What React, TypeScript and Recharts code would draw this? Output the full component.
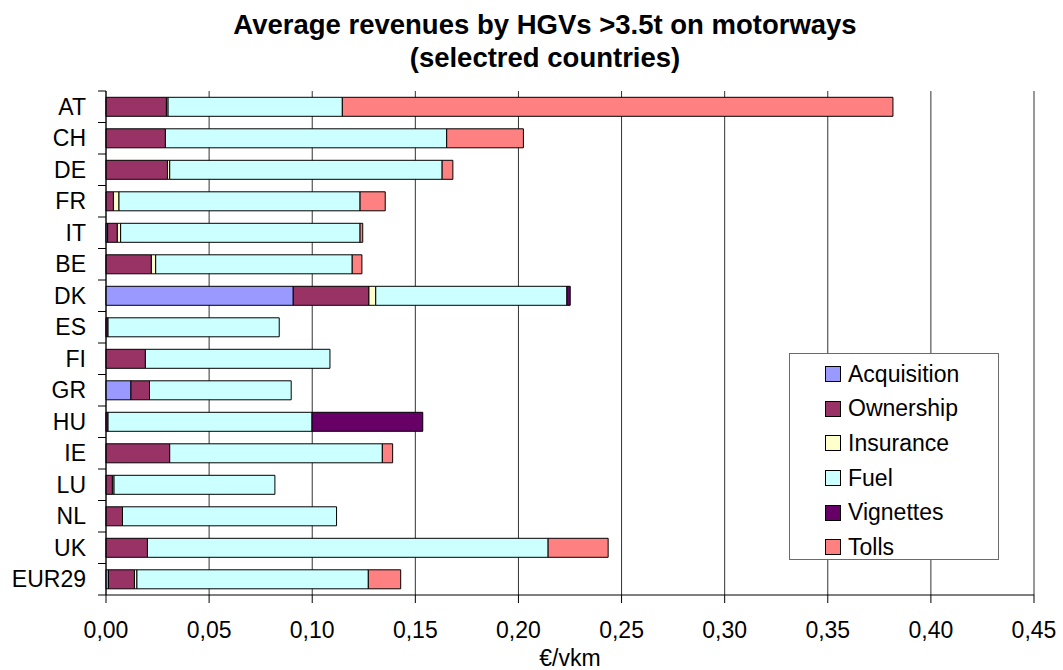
import React from 'react';
import { BarChart, Bar, XAxis, YAxis, CartesianGrid, Legend } from 'recharts';

const countries = ['AT', 'CH', 'DE', 'FR', 'IT', 'BE', 'DK', 'ES', 'FI', 'GR', 'HU', 'IE', 'LU', 'NL', 'UK', 'EUR29'];
const acquisition = [0, 0, 0, 0, 0.0008, 0, 0.0908, 0, 0, 0.0121, 0, 0, 0, 0, 0, 0.0012];
const ownership = [0.0293, 0.0288, 0.0298, 0.0036, 0.0047, 0.022, 0.0367, 0.001, 0.0191, 0.009, 0.001, 0.0309, 0.0031, 0.008, 0.0201, 0.0126];
const insurance = [0.0008, 0, 0.0011, 0.0027, 0.0016, 0.0021, 0.0033, 0, 0, 0, 0, 0, 0.0008, 0, 0, 0.0012];
const fuel = [0.0845, 0.1364, 0.1321, 0.1169, 0.1161, 0.0953, 0.0927, 0.083, 0.0895, 0.0687, 0.0989, 0.1031, 0.078, 0.1038, 0.1943, 0.1122];
const vignettes = [0, 0, 0, 0, 0, 0, 0.0016, 0, 0, 0, 0.0537, 0, 0, 0, 0, 0];
const tolls = [0.267, 0.0372, 0.0052, 0.0122, 0.0013, 0.0047, 0, 0, 0, 0, 0, 0.005, 0, 0, 0.0291, 0.0157];
const xTicks = [0, 0.05, 0.1, 0.15, 0.2, 0.25, 0.3, 0.35, 0.4, 0.45];

const series = [
  { key: 'Acquisition', values: acquisition, color: '#9999FF' },
  { key: 'Ownership', values: ownership, color: '#993366' },
  { key: 'Insurance', values: insurance, color: '#FFFFCC' },
  { key: 'Fuel', values: fuel, color: '#CCFFFF' },
  { key: 'Vignettes', values: vignettes, color: '#660066' },
  { key: 'Tolls', values: tolls, color: '#FF8080' },
];

const data = countries.map((c, i) => {
  const row: Record<string, any> = { country: c };
  series.forEach((s) => { row[s.key] = s.values[i]; });
  return row;
});

const FONT = '"Liberation Sans", Arial, sans-serif';
const HALF_BAND = 15.75;

const YTick = (props: any) => {
  const { x, y, payload, index } = props;
  const isLast = index === countries.length - 1;
  return (
    <g>
      <text x={x} y={y} textAnchor="end" dominantBaseline="central" fontSize={23} fontFamily={FONT} fill="#000">
        {payload.value}
      </text>
      <line x1={x + 12} x2={x + 20} y1={y - HALF_BAND} y2={y - HALF_BAND} stroke="#000" />
      {isLast && <line x1={x + 12} x2={x + 20} y1={y + HALF_BAND} y2={y + HALF_BAND} stroke="#000" />}
    </g>
  );
};

const LegendContent = () => (
  <div
    style={{
      width: 210,
      height: 207,
      border: '1px solid #6b6b6b',
      background: '#fff',
      boxSizing: 'border-box',
      paddingTop: 3,
      fontFamily: FONT,
    }}
  >
    {series.map((s) => (
      <div key={s.key} style={{ display: 'flex', alignItems: 'center', height: 34.6, paddingLeft: 35 }}>
        <div style={{ width: 14, height: 14, background: s.color, border: '1px solid #000', marginRight: 7 }} />
        <span style={{ fontSize: 23, color: '#000' }}>{s.key}</span>
      </div>
    ))}
  </div>
);

export default function App() {
  return (
    <div style={{ position: 'absolute', left: 0, top: 0, width: 1063, height: 670, background: '#fff' }}>
      <BarChart
        width={1063}
        height={670}
        data={data}
        layout="vertical"
        margin={{ top: 91, right: 29, left: 0, bottom: 0 }}
        barCategoryGap="20%"
      >
        <CartesianGrid horizontal={false} stroke="#333" xAxisId={0} />
        <XAxis
          type="number"
          xAxisId={0}
          domain={[0, 0.45]}
          ticks={xTicks}
          interval={0}
          height={75}
          tickSize={8}
          tickMargin={19}
          stroke="#000"
          tick={{ fontSize: 23, fontFamily: FONT, fill: '#000' }}
          tickFormatter={(v: number) => v.toFixed(2).replace('.', ',')}
          label={{ value: '€/vkm', position: 'insideBottom', offset: 4, fontSize: 23, fontFamily: FONT, fill: '#000' }}
        />
        <XAxis
          type="number"
          xAxisId="top"
          orientation="top"
          domain={[0, 0.45]}
          tick={false}
          tickLine={false}
          height={0}
          stroke="#999"
        />
        <YAxis
          type="category"
          dataKey="country"
          width={106}
          tickSize={8}
          tickMargin={12}
          tickLine={false}
          stroke="#000"
          interval={0}
          tick={<YTick />}
        />
        <Legend
          layout="vertical"
          verticalAlign="middle"
          align="center"
          wrapperStyle={{ position: 'absolute', left: 789, top: 353, width: 210, height: 207 }}
          content={<LegendContent />}
        />
        {series.map((s) => (
          <Bar
            key={s.key}
            dataKey={s.key}
            stackId="a"
            xAxisId={0}
            fill={s.color}
            stroke="#000"
            strokeWidth={1}
            isAnimationActive={false}
          />
        ))}
      </BarChart>
      <div
        style={{
          position: 'absolute',
          left: 0,
          width: 1090,
          top: 8,
          textAlign: 'center',
          fontFamily: FONT,
          fontWeight: 'bold',
          fontSize: 27.5,
          lineHeight: '33px',
          color: '#000',
          pointerEvents: 'none',
        }}
      >
        Average revenues by HGVs &gt;3.5t on motorways
        <br />
        (selectred countries)
      </div>
    </div>
  );
}
